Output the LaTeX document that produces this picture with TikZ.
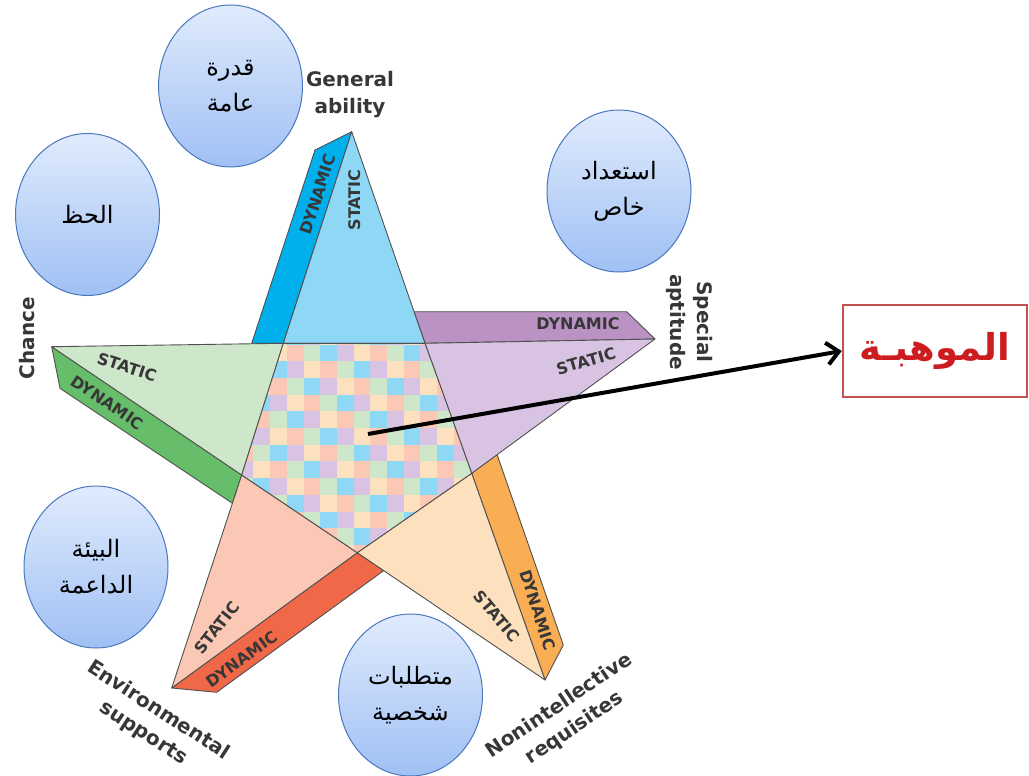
\documentclass[tikz,border=0pt]{standalone}
\usepackage{fontspec}
\usetikzlibrary{arrows.meta,shapes.geometric}
\TeXXeTstate=1
\newfontfamily\arabicfont[Script=Arabic]{DejaVu Sans}
\newfontfamily\labelfont{DejaVu Sans}

\definecolor{topdyn}{RGB}{0,176,236}
\definecolor{topstat}{RGB}{142,216,246}
\definecolor{rightdyn}{RGB}{186,146,196}
\definecolor{rightstat}{RGB}{216,196,226}
\definecolor{leftdyn}{RGB}{102,190,106}
\definecolor{leftstat}{RGB}{206,230,202}
\definecolor{bldyn}{RGB}{240,104,72}
\definecolor{blstat}{RGB}{250,200,180}
\definecolor{brdyn}{RGB}{250,174,84}
\definecolor{brstat}{RGB}{253,225,190}
\colorlet{chk0}{blstat}
\colorlet{chk1}{leftstat}
\colorlet{chk2}{topstat}
\colorlet{chk3}{rightstat}
\colorlet{chk4}{brstat}
\definecolor{edgegray}{RGB}{80,80,80}
\definecolor{labelgray}{RGB}{55,55,55}
\definecolor{bubbletop}{RGB}{224,235,253}
\definecolor{bubblebot}{RGB}{160,192,244}
\definecolor{bubbleline}{RGB}{74,120,190}
\definecolor{boxred}{RGB}{196,80,80}
\definecolor{wordred}{RGB}{205,28,32}

\tikzset{
  starline/.style={draw=edgegray, line width=0.9pt, line join=round},
  bubble/.style={ellipse, draw=bubbleline, line width=1pt, top color=bubbletop,
    bottom color=bubblebot, minimum width=144pt, minimum height=162pt,
    inner sep=0pt, align=center, font=\arabicfont\fontsize{24}{36}\selectfont},
  bandtext/.style={font=\labelfont\bfseries\fontsize{16}{16}\selectfont,
    text=labelgray, inner sep=0pt},
  pointlabel/.style={font=\labelfont\bfseries\fontsize{20}{27}\selectfont,
    text=labelgray, inner sep=0pt, align=center}
}

\begin{document}
\begin{tikzpicture}[x=1pt,y=-1pt]
\useasboundingbox (0,0) rectangle (1029,776);
% star points
\coordinate (ga) at (351.7,131.7);
\coordinate (sa) at (655,339);
\coordinate (ch) at (51.7,346.7);
\coordinate (es) at (171.7,688);
\coordinate (nr) at (545,680);
% inner pentagon
\coordinate (p1) at (283.3,343.3);
\coordinate (p2) at (425,343.3);
\coordinate (p3) at (471.7,473.3);
\coordinate (p4) at (357.3,552.7);
\coordinate (p5) at (241.7,475);

% dynamic bands
\draw [starline, fill=topdyn] (ga) -- (315,150) -- (251.7,343.3) -- (p1) -- cycle;
\draw [starline, fill=rightdyn] (414,311.7) -- (626.7,311.7) -- (sa) -- (p2) -- cycle;
\draw [starline, fill=leftdyn] (ch) -- (60,388.3) -- (232.4,503.3) -- (p5) -- cycle;
\draw [starline, fill=bldyn] (es) -- (216.7,692.3) -- (383.7,570.6) -- (p4) -- cycle;
\draw [starline, fill=brdyn] (p3) -- (497,454.5) -- (563.3,645) -- (nr) -- cycle;

% static points
\draw [starline, fill=topstat] (ga) -- (p2) -- (p1) -- cycle;
\draw [starline, fill=rightstat] (sa) -- (p3) -- (p2) -- cycle;
\draw [starline, fill=brstat] (nr) -- (p4) -- (p3) -- cycle;
\draw [starline, fill=blstat] (es) -- (p5) -- (p4) -- cycle;
\draw [starline, fill=leftstat] (ch) -- (p1) -- (p5) -- cycle;

% checkered core
\begin{scope}
\clip (p1) -- (p2) -- (p3) -- (p4) -- (p5) -- cycle;
\foreach \i in {0,...,15}
  \foreach \j in {-1,...,13} {
    \pgfmathtruncatemacro\k{mod(\i+3*\j+12,5)}
    \fill [chk\k] ({236.7+16.7*\i},{344.5+16.7*\j}) rectangle +(17,17);
  }
\end{scope}
\draw [starline] (p1) -- (p2) -- (p3) -- (p4) -- (p5) -- cycle;

% band labels
\node [bandtext, rotate=72] (gadyn) at (318,194) {DYNAMIC};
\node [bandtext, rotate=90] (gastat) at (355,200) {STATIC};
\node [bandtext, rotate=-18] (chstat) at (127,367) {STATIC};
\node [bandtext, rotate=-34] (chdyn) at (107.5,402.5) {DYNAMIC};
\node [bandtext] (sadyn) at (578,324) {DYNAMIC};
\node [bandtext, rotate=16] (sastat) at (586,361) {STATIC};
\node [bandtext, rotate=52] (esstat) at (217,628) {STATIC};
\node [bandtext, rotate=36] (esdyn) at (242,659) {DYNAMIC};
\node [bandtext, rotate=-72] (nrdyn) at (538,610) {DYNAMIC};
\node [bandtext, rotate=-50] (nrstat) at (497,616) {STATIC};

% point labels
\node [pointlabel] (general) at (350,95) {General\\ability};
\node [pointlabel, rotate=-90] (special) at (690,322) {Special\\aptitude};
\node [pointlabel, rotate=90] (chance) at (27,338) {Chance};
\node [pointlabel, rotate=-33] (environ) at (151,722) {Environmental\\supports};
\node [pointlabel, rotate=34] (nonintel) at (567,717) {Nonintellective\\requisites};

% bubbles
\node [bubble] (qudra) at (230.5,86) {\beginR قدرة\endR\\\beginR عامة\endR};
\node [bubble] (hazz) at (87.5,214.5) {\beginR الحظ\endR};
\node [bubble] (istidad) at (619,191) {\beginR استعداد\endR\\\beginR خاص\endR};
\node [bubble] (biaa) at (96,567) {\beginR البيئة\endR\\\beginR الداعمة\endR};
\node [bubble] (mutatallabat) at (410.5,695) {\beginR متطلبات\endR\\\beginR شخصية\endR};

% result
\node [draw=boxred, line width=2.5pt, fill=white, minimum width=184pt,
  minimum height=92pt, text=wordred,
  font=\arabicfont\bfseries\fontsize{37}{37}\selectfont] (mawhiba) at (935,351)
  {\beginR الموهبـة\endR};
\coordinate (core) at (368,434);
\draw [line width=4pt, -{Straight Barb[length=12pt,width=22pt]}] (core) -- (mawhiba.west);
\end{tikzpicture}
\end{document}
